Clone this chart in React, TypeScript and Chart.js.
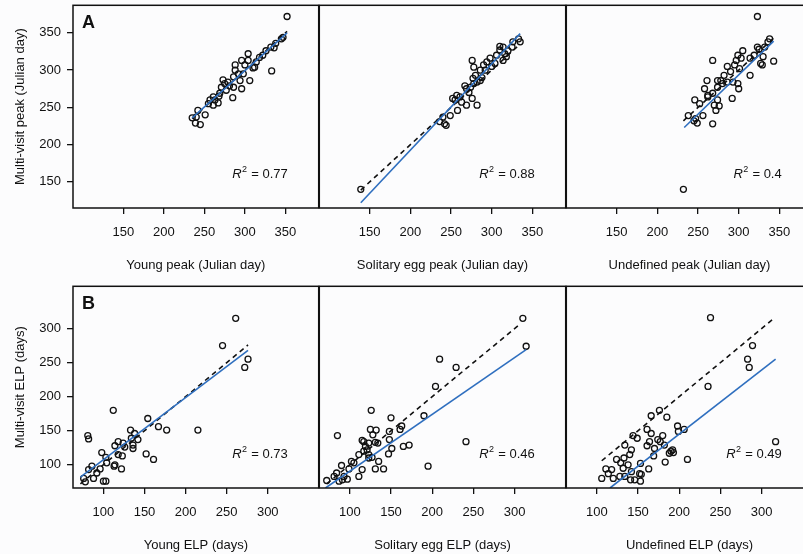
import React, { useEffect, useRef } from 'react';
import { Chart, registerables } from 'chart.js';

Chart.register(...registerables);

// ---------- Data ----------
// Row A: peaks (Julian day)
const youngPeakX = [352, 347, 345, 336, 332, 338, 326, 333, 318, 314, 312, 304, 296, 300, 306, 288, 292, 286, 296, 294, 286, 285, 279, 273, 277, 271, 269, 267, 261, 257, 255, 261, 263, 251, 242, 240, 235, 239, 245, 288, 281, 304, 268, 275, 298, 310, 322];
const youngPeakY = [372, 344, 342, 330, 331, 336, 326, 299, 317, 311, 304, 313, 313, 307, 286, 307, 295, 291, 275, 286, 277, 263, 284, 287, 273, 277, 269, 256, 264, 260, 255, 253, 260, 240, 246, 237, 236, 229, 227, 300, 279, 322, 265, 282, 295, 303, 320];

const soloPeakX = [139, 236, 242, 244, 240, 249, 257, 255, 258, 263, 269, 282, 276, 269, 274, 278, 282, 286, 277, 280, 286, 290, 294, 298, 276, 278, 304, 306, 310, 314, 316, 318, 325, 314, 310, 333, 335, 326, 267, 272, 252, 261, 288, 292, 300, 320];
const soloPeakY = [140, 231, 228, 226, 237, 239, 266, 260, 246, 257, 253, 253, 262, 275, 277, 282, 284, 286, 289, 293, 300, 307, 311, 316, 313, 304, 309, 320, 327, 331, 322, 318, 331, 313, 332, 342, 338, 338, 279, 270, 262, 264, 290, 300, 305, 326];

const undefPeakX = [323, 232, 268, 268, 338, 336, 332, 323, 325, 319, 314, 330, 327, 329, 343, 314, 305, 299, 303, 297, 295, 301, 286, 290, 282, 278, 274, 274, 280, 286, 299, 300, 293, 292, 261, 258, 262, 262, 268, 274, 270, 276, 272, 246, 252, 256, 238, 245, 249, 247];
const undefPeakY = [372, 140, 313, 228, 342, 338, 331, 331, 328, 320, 316, 318, 309, 307, 312, 293, 326, 320, 316, 313, 307, 302, 305, 298, 293, 286, 286, 277, 282, 284, 282, 275, 284, 262, 286, 275, 266, 264, 269, 260, 253, 252, 246, 260, 255, 239, 239, 232, 229, 235];

// Row B: ELP (days)
const youngElpX = [261, 245, 276, 272, 112, 154, 167, 177, 215, 81, 82, 133, 138, 134, 142, 118, 124, 114, 126, 136, 136, 118, 123, 152, 161, 98, 103, 104, 114, 113, 122, 96, 86, 82, 92, 88, 76, 78, 100, 103];
const youngElpY = [315, 275, 255, 243, 180, 168, 156, 151, 151, 143, 138, 151, 146, 139, 137, 134, 132, 128, 126, 129, 124, 115, 113, 116, 108, 118, 111, 103, 100, 98, 94, 94, 98, 93, 88, 80, 80, 75, 76, 76];

const soloElpX = [310, 314, 209, 229, 204, 190, 241, 195, 85, 126, 150, 163, 161, 148, 148, 151, 147, 165, 172, 125, 132, 128, 115, 117, 123, 119, 131, 134, 121, 117, 123, 111, 105, 102, 90, 99, 115, 111, 131, 141, 135, 84, 81, 72, 87, 91, 97, 93, 123, 127];
const soloElpY = [315, 274, 255, 243, 215, 172, 134, 98, 143, 180, 169, 157, 152, 149, 137, 124, 116, 127, 129, 152, 151, 144, 136, 134, 132, 127, 133, 132, 122, 120, 115, 115, 103, 105, 99, 94, 93, 83, 94, 94, 105, 88, 83, 77, 76, 78, 79, 83, 110, 111];

const undefElpX = [238, 289, 283, 285, 235, 317, 210, 176, 166, 185, 161, 198, 199, 206, 180, 166, 174, 177, 164, 161, 144, 149, 134, 142, 140, 170, 190, 193, 188, 192, 182, 169, 183, 163, 153, 124, 133, 129, 138, 132, 111, 118, 114, 106, 120, 128, 134, 142, 152, 141, 146, 153, 154];
const undefElpY = [316, 275, 255, 243, 215, 134, 108, 180, 172, 170, 152, 157, 149, 152, 143, 146, 137, 134, 134, 128, 143, 139, 129, 122, 115, 124, 120, 118, 117, 122, 129, 113, 104, 94, 102, 108, 110, 103, 100, 95, 94, 93, 87, 80, 80, 83, 83, 90, 87, 78, 78, 76, 86];

const panelX = [youngPeakX, soloPeakX, undefPeakX, youngElpX, soloElpX, undefElpX];
const panelY = [youngPeakY, soloPeakY, undefPeakY, youngElpY, soloElpY, undefElpY];

// Fitted (blue) line end points
const fitX0 = [235, 139, 233, 72, 70.5, 116];
const fitY0 = [236, 122, 223, 82, 66, 66];
const fitX1 = [352, 335, 343, 276, 314, 317];
const fitY1 = [350, 349, 339, 268, 269, 255];

// 1:1 dashed line span (x = y)
const idLo = [235, 139, 232, 72, 72, 106];
const idHi = [352, 335, 343, 276, 307, 313];

const r2Values = ['0.77', '0.88', '0.4', '0.73', '0.46', '0.49'];
const xTitles = [
  'Young peak (Julian day)', 'Solitary egg peak (Julian day)', 'Undefined peak (Julian day)',
  'Young ELP (days)', 'Solitary egg ELP (days)', 'Undefined ELP (days)',
];
const yTitles = ['Multi-visit peak (Julian day)', 'Multi-visit ELP (days)'];
const rowLetters = ['A', 'B'];
const peakTicks = [150, 200, 250, 300, 350];
const elpTicks = [100, 150, 200, 250, 300];
const rowXMin = [88, 63];
const rowXMax = [391, 362];
const rowYMin = [115, 66];
const rowYMax = [387, 362];

// ---------- Layout / style ----------
const FONT = '"Liberation Sans", Arial, Helvetica, sans-serif';
const INK = '#111111';
const BLUE = '#2f6fbf';
const colFrameLeft = [73, 319, 566];
const colFrameW = [246, 247, 247];
const rowFrameTop = [5, 286];
const rowFrameH = [203, 202];
const PAD = 5;
const YAXIS_W = 73;
const XAXIS_H = 66;

const framePlugin = {
  id: 'frame',
  afterDraw(chart: any, _args: any, opts: any) {
    const { ctx, chartArea: a } = chart;
    ctx.save();
    ctx.strokeStyle = INK;
    ctx.lineWidth = 1.5;
    ctx.strokeRect(a.left, a.top, a.right - a.left, a.bottom - a.top);
    if (opts.letter) {
      ctx.fillStyle = INK;
      ctx.font = `bold 18px ${FONT}`;
      ctx.textBaseline = 'alphabetic';
      ctx.textAlign = 'left';
      ctx.fillText(opts.letter, a.left + 9, a.top + 22.5);
    }
    // R^2 annotation, right-aligned
    const right = a.right - 31;
    const cy = a.bottom - 33.5;
    ctx.fillStyle = INK;
    ctx.textBaseline = 'middle';
    ctx.textAlign = 'left';
    const fR = `italic 13px ${FONT}`;
    const fSup = `9px ${FONT}`;
    const fN = `13px ${FONT}`;
    const rest = ' = ' + opts.r2;
    ctx.font = fR; const wR = ctx.measureText('R').width;
    ctx.font = fSup; const wS = ctx.measureText('2').width;
    ctx.font = fN; const wN = ctx.measureText(rest).width;
    let x = right - (wR + wS + 1 + wN);
    ctx.font = fR; ctx.fillText('R', x, cy); x += wR + 0.5;
    ctx.font = fSup; ctx.fillText('2', x, cy - 5); x += wS + 0.5;
    ctx.font = fN; ctx.fillText(rest, x, cy);
    ctx.restore();
  },
};

function Panel({ idx }: { idx: number }) {
  const ref = useRef<HTMLCanvasElement>(null);
  const row = Math.floor(idx / 3);
  const col = idx % 3;
  const padLeft = col === 0 ? 0 : PAD;
  const leftW = col === 0 ? YAXIS_W : PAD;
  const canvasLeft = colFrameLeft[col] - leftW;
  const canvasTop = rowFrameTop[row] - PAD;
  const w = leftW + colFrameW[col] + PAD;
  const h = PAD + rowFrameH[row] + XAXIS_H;

  useEffect(() => {
    const ticks = row === 0 ? peakTicks : elpTicks;
    const xs = panelX[idx];
    const ys = panelY[idx];
    const showY = col === 0;
    const chart = new Chart(ref.current as HTMLCanvasElement, {
      type: 'scatter',
      data: {
        datasets: [
          {
            type: 'line',
            data: [{ x: fitX0[idx], y: fitY0[idx] }, { x: fitX1[idx], y: fitY1[idx] }],
            borderColor: BLUE,
            borderWidth: 1.6,
            pointRadius: 0,
            fill: false,
          } as any,
          {
            type: 'line',
            data: [{ x: idLo[idx], y: idLo[idx] }, { x: idHi[idx], y: idHi[idx] }],
            borderColor: INK,
            borderDash: [5, 4],
            borderWidth: 1.6,
            pointRadius: 0,
            fill: false,
          } as any,
          {
            type: 'scatter',
            data: xs.map((x, i) => ({ x, y: ys[i] })),
            pointRadius: 3,
            borderWidth: 1.3,
            borderColor: INK,
            backgroundColor: 'rgba(0,0,0,0)',
            pointStyle: 'circle',
          } as any,
        ],
      },
      options: {
        responsive: false,
        animation: false,
        events: [],
        layout: { padding: { left: padLeft, right: PAD, top: PAD, bottom: 0 } },
        plugins: {
          legend: { display: false },
          tooltip: { enabled: false },
          frame: { letter: col === 0 ? rowLetters[row] : '', r2: r2Values[idx] },
        } as any,
        scales: {
          x: {
            type: 'linear',
            min: rowXMin[row],
            max: rowXMax[row],
            afterBuildTicks: (s: any) => { s.ticks = ticks.map((v) => ({ value: v })); },
            afterFit: (s: any) => {
              s.height = XAXIS_H;
              s.paddingLeft = 0; s.paddingRight = 0; s.paddingTop = 0; s.paddingBottom = 0;
            },
            grid: { drawOnChartArea: false, drawTicks: true, tickLength: 6, color: INK, lineWidth: 1.3 },
            border: { display: false },
            ticks: { color: INK, font: { family: FONT, size: 13 }, padding: 11, maxRotation: 0, autoSkip: false },
            title: { display: true, text: xTitles[idx], color: INK, font: { family: FONT, size: 13 }, padding: { top: 0, bottom: 1.2 } },
          },
          y: {
            type: 'linear',
            display: showY,
            min: rowYMin[row],
            max: rowYMax[row],
            afterBuildTicks: (s: any) => { s.ticks = ticks.map((v) => ({ value: v })); },
            afterFit: (s: any) => {
              s.width = showY ? YAXIS_W : 0;
              s.paddingLeft = 0; s.paddingRight = 0; s.paddingTop = 0; s.paddingBottom = 0;
            },
            grid: { drawOnChartArea: false, drawTicks: true, tickLength: 6, color: INK, lineWidth: 1.3 },
            border: { display: false },
            ticks: { color: INK, font: { family: FONT, size: 13 }, padding: 6, autoSkip: false },
            title: { display: true, text: yTitles[row], color: INK, font: { family: FONT, size: 13 }, padding: { top: 13, bottom: 0 } },
          },
        },
      } as any,
      plugins: [framePlugin as any],
    });
    return () => chart.destroy();
  }, []);

  return (
    <canvas
      ref={ref}
      width={w}
      height={h}
      style={{ position: 'absolute', left: canvasLeft, top: canvasTop, width: w, height: h }}
    />
  );
}

export default function App() {
  return (
    <div
      style={{
        position: 'fixed',
        left: 0,
        top: 0,
        width: 803,
        height: 554,
        overflow: 'hidden',
        background: '#fcfcfd',
      }}
    >
      {[0, 1, 2, 3, 4, 5].map((i) => (
        <Panel key={i} idx={i} />
      ))}
    </div>
  );
}
